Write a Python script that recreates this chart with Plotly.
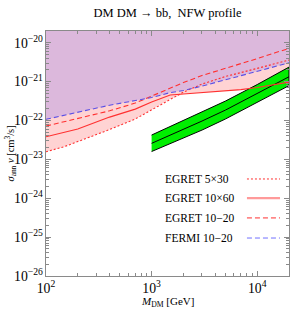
import numpy as np
import plotly.graph_objects as go

# ---- data ----
mass = [100, 150, 200, 400, 700, 1000, 1500, 2000, 3000, 5000, 7000, 10000, 15000, 20000]

fermi_10_20 = [1.07e-22, 1.36e-22, 1.63e-22, 2.47e-22, 3.25e-22, 3.88e-22, 5.21e-22,
               5.87e-22, 7.66e-22, 1.12e-21, 1.43e-21, 1.86e-21, 2.43e-21, 3.04e-21]
egret_10_20 = [7.18e-23, 9.38e-23, 1.12e-22, 1.77e-22, 2.80e-22, 4.24e-22, 6.81e-22,
               9.42e-22, 1.43e-21, 2.16e-21, 2.82e-21, 3.90e-21, 5.57e-21, 7.13e-21]
egret_10x60 = [3.81e-23, 4.89e-23, 6.01e-23, 1.22e-22, 1.96e-22, 2.97e-22, 4.50e-22,
               4.78e-22, 5.21e-22, 5.70e-22, 6.22e-22, 7.02e-22, 8.38e-22, 9.70e-22]
egret_5x30 = [1.57e-23, 2.13e-23, 2.87e-23, 5.83e-23, 1.09e-22, 1.85e-22, 3.55e-22,
              5.37e-22, 8.63e-22, 1.35e-21, 1.70e-21, 2.22e-21, 2.90e-21, 3.57e-21]

band_mass = [1000, 2000, 3000, 5000, 10000, 20000]
band_upper = [4.22e-23, 9.93e-23, 1.64e-22, 3.15e-22, 8.38e-22, 2.36e-21]
band_center = [2.58e-23, 5.90e-23, 9.66e-23, 1.85e-22, 4.89e-22, 1.33e-21]
band_lower = [1.59e-23, 3.53e-23, 5.66e-23, 1.09e-22, 2.88e-22, 7.88e-22]

Y_TOP = 1e-19  # fill up to beyond the top of the axis

legend_labels = ["EGRET 5×30", "EGRET 10×60", "EGRET 10−20", "FERMI 10−20"]

# ---- styles ----
FONT = "Liberation Serif"
RED = "#ff3030"
BLUE = "#5a50e6"
PINK = "#ffd3d3"
PURPLE = "#dcb8dc"
GREEN = "#00ee00"
AXIS = "#8a8a8a"

fig = go.Figure()

# pink excluded region: above the lowest EGRET curve
env = np.minimum(np.array(egret_5x30), np.array(egret_10x60))
fig.add_trace(go.Scatter(
    x=mass + mass[::-1], y=list(env) + [Y_TOP] * len(mass),
    fill="toself", fillcolor=PINK, line=dict(width=0), mode="lines",
    hoverinfo="skip", showlegend=False))

# purple excluded region: above FERMI
fig.add_trace(go.Scatter(
    x=mass + mass[::-1], y=fermi_10_20 + [Y_TOP] * len(mass),
    fill="toself", fillcolor=PURPLE, line=dict(width=0), mode="lines",
    hoverinfo="skip", showlegend=False))

# green band
fig.add_trace(go.Scatter(
    x=band_mass + band_mass[::-1], y=band_upper + band_lower[::-1],
    fill="toself", fillcolor=GREEN, line=dict(color="black", width=1), mode="lines",
    hoverinfo="skip", showlegend=False))
fig.add_trace(go.Scatter(
    x=band_mass, y=band_center, mode="lines",
    line=dict(color="black", width=1), showlegend=False))

# curves
fig.add_trace(go.Scatter(x=mass, y=egret_5x30, mode="lines",
                         line=dict(color=RED, width=1.1, dash="2px,2px"), showlegend=False))
fig.add_trace(go.Scatter(x=mass, y=egret_10x60, mode="lines",
                         line=dict(color=RED, width=1.1), showlegend=False))
fig.add_trace(go.Scatter(x=mass, y=egret_10_20, mode="lines",
                         line=dict(color=RED, width=1.1, dash="5px,3px"), showlegend=False))
fig.add_trace(go.Scatter(x=mass, y=fermi_10_20, mode="lines",
                         line=dict(color=BLUE, width=1.1, dash="5px,3px"), showlegend=False))

# manual legend (text left, line sample right)
leg_y = [0.396, 0.318, 0.237, 0.155]
leg_styles = [dict(color=RED, width=1, dash="2px,2px"),
              dict(color="#ff9a9a", width=2.2),
              dict(color=RED, width=1, dash="5px,3px"),
              dict(color="#7070ff", width=1, dash="5px,3px")]
for lab, yy, st in zip(legend_labels, leg_y, leg_styles):
    fig.add_annotation(x=0.48, y=yy, xref="paper", yref="paper", text=lab,
                       showarrow=False, xanchor="left", yanchor="middle",
                       font=dict(family=FONT, size=11.5, color="black"))
    fig.add_shape(type="line", xref="paper", yref="paper",
                  x0=0.827, x1=0.963, y0=yy, y1=yy, line=st)

# axis titles as annotations (fixed placement)
fig.add_annotation(x=0.5, y=-0.108, xref="paper", yref="paper",
                   text="<i>M</i><sub>DM</sub> [GeV]", showarrow=False,
                   xanchor="center", yanchor="middle",
                   font=dict(family=FONT, size=11, color="black"))
fig.add_annotation(x=-0.148, y=0.5, xref="paper", yref="paper",
                   text="<i>σ</i><sub>ann</sub> <i>v</i> [cm<sup>3</sup>/s]", showarrow=False,
                   textangle=-90, xanchor="center", yanchor="middle",
                   font=dict(family=FONT, size=10.5, color="black"))

axis_common = dict(
    type="log", showline=True, linecolor=AXIS, linewidth=1, mirror="allticks",
    ticks="inside", ticklen=5, tickcolor=AXIS, tickwidth=1, dtick=1,
    exponentformat="power", showgrid=False, zeroline=False, automargin=False,
    tickfont=dict(family=FONT, size=11, color="black"),
    minor=dict(ticks="inside", ticklen=3, tickcolor=AXIS, dtick="D1", showgrid=False),
)

fig.update_layout(
    width=294, height=309,
    margin=dict(l=46, r=5, t=31, b=33),
    paper_bgcolor="white", plot_bgcolor="white",
    title=dict(text="DM DM → bb,  NFW profile", x=0.5, xref="paper", xanchor="center",
               y=0.958, yanchor="middle",
               font=dict(family=FONT, size=12.5, color="black")),
    xaxis=dict(axis_common, range=[2, np.log10(2e4)]),
    yaxis=dict(axis_common, range=[-26, np.log10(2e-20)]),
    showlegend=False,
)

# remove the default page margin so the figure sits at the window's top-left
fig.write_html("out.html", config={"displayModeBar": False},
               post_script="document.body.style.margin='0';document.body.style.overflow='hidden';")
